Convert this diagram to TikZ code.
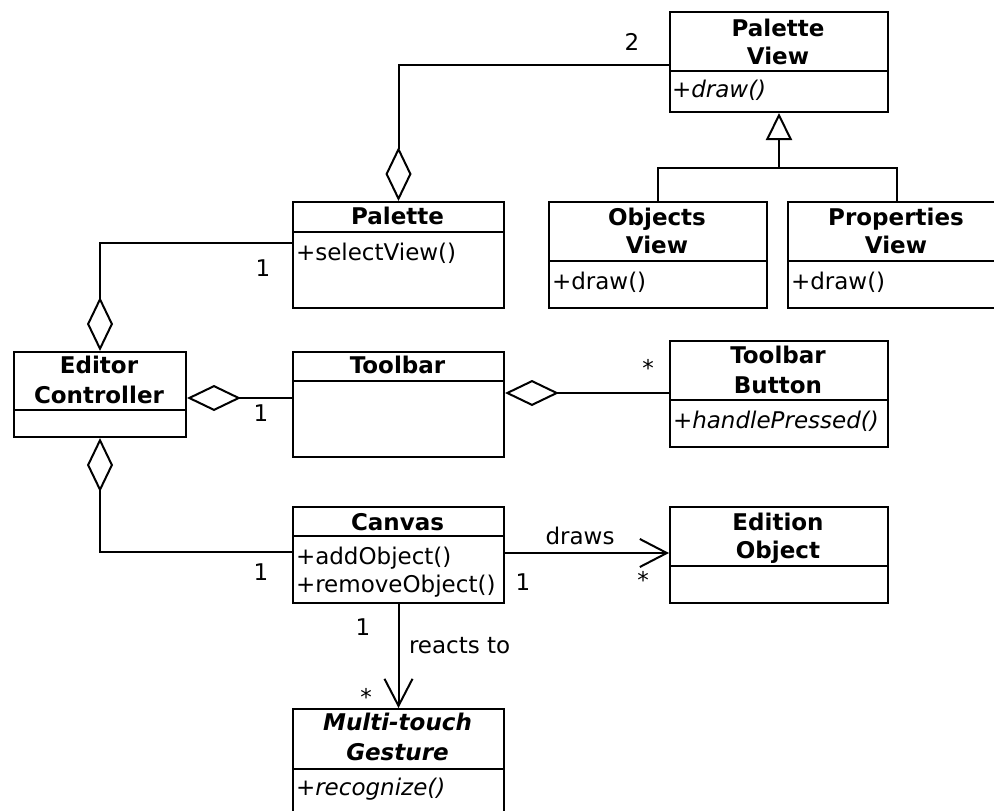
\documentclass[tikz,border=0pt]{standalone}
\usepackage{fontspec}
\setmainfont{DejaVu Sans}
\usetikzlibrary{arrows.meta}

\begin{document}
\begin{tikzpicture}[x=1pt, y=-1pt, line width=2pt,
  cls/.style={draw, rectangle, inner sep=0pt, anchor=north west},
  txt/.style={inner sep=0pt, anchor=base, font=\fontsize{23}{28}\selectfont},
  ttl/.style={txt, font=\fontsize{23}{28}\selectfont\bfseries},
  attl/.style={txt, font=\fontsize{23}{28}\selectfont\bfseries\itshape},
  op/.style={txt, anchor=base west},
  aop/.style={op, font=\fontsize{23}{28}\selectfont\itshape},
  mult/.style={txt},
  star/.style={inner sep=0pt, anchor=center, font=\fontsize{23}{28}\selectfont},
  agg/.style={{Diamond[open, length=54pt, width=26pt]}-},
  nav/.style={-{Straight Barb[length=27pt, width=28pt]}},
  gen/.style={-{Triangle[open, length=27pt, width=26pt]}}
]
\clip (0,0) rectangle (994,811);
\useasboundingbox (0,0) rectangle (994,811);

% ---- classes ----
\node[cls, minimum width=218pt, minimum height=100pt] (pv)  at (669,11)  {};
\node[cls, minimum width=211pt, minimum height=106pt] (pal) at (292,201) {};
\node[cls, minimum width=218pt, minimum height=106pt] (ov)  at (548,201) {};
\node[cls, minimum width=218pt, minimum height=106pt] (pp)  at (787,201) {};
\node[cls, minimum width=172pt, minimum height=85pt]  (ec)  at (13,351)  {};
\node[cls, minimum width=211pt, minimum height=105pt] (tb)  at (292,351) {};
\node[cls, minimum width=218pt, minimum height=106pt] (tbb) at (669,340) {};
\node[cls, minimum width=211pt, minimum height=96pt]  (cv)  at (292,506) {};
\node[cls, minimum width=218pt, minimum height=96pt]  (eo)  at (669,506) {};
\node[cls, minimum width=211pt, minimum height=130pt] (mg)  at (292,708) {};

% compartment dividers
\draw (pv.west  |- 0,71)  -- (pv.east  |- 0,71);
\draw (pal.west |- 0,232) -- (pal.east |- 0,232);
\draw (ov.west  |- 0,261) -- (ov.east  |- 0,261);
\draw (pp.west  |- 0,261) -- (pp.east  |- 0,261);
\draw (ec.west  |- 0,410) -- (ec.east  |- 0,410);
\draw (tb.west  |- 0,381) -- (tb.east  |- 0,381);
\draw (tbb.west |- 0,400) -- (tbb.east |- 0,400);
\draw (cv.west  |- 0,536) -- (cv.east  |- 0,536);
\draw (eo.west  |- 0,566) -- (eo.east  |- 0,566);
\draw (mg.west  |- 0,769) -- (mg.east  |- 0,769);

% ---- class names and operations ----
\node[ttl] (pvt1) at (778,36) {Palette};
\node[ttl] (pvt2) at (778,64) {View};
\node[aop] (pvo)  at (671,97) {+draw()};

\node[ttl] (palt) at (397.5,224) {Palette};
\node[op]  (palo) at (295,260) {+selectView()};

\node[ttl] (ovt1) at (657,225) {Objects};
\node[ttl] (ovt2) at (657,253) {View};
\node[op]  (ovo)  at (551,289) {+draw()};

\node[ttl] (ppt1) at (896,225) {Properties};
\node[ttl] (ppt2) at (896,253) {View};
\node[op]  (ppo)  at (790,289) {+draw()};

\node[ttl] (ect1) at (99,373) {Editor};
\node[ttl] (ect2) at (99,403) {Controller};

\node[ttl] (tbt)  at (397.5,373) {Toolbar};

\node[ttl] (tbbt1) at (778,363) {Toolbar};
\node[ttl] (tbbt2) at (778,393) {Button};
\node[aop] (tbbo)  at (672,428) {+handlePressed()};

\node[ttl] (cvt)  at (397.5,530) {Canvas};
\node[op]  (cvo1) at (295,564) {+addObject()};
\node[op]  (cvo2) at (295,592) {+removeObject()};

\node[ttl] (eot1) at (778,530) {Edition};
\node[ttl] (eot2) at (778,558) {Object};

\node[attl] (mgt1) at (397.5,730) {Multi-touch};
\node[attl] (mgt2) at (397.5,760) {Gesture};
\node[aop]  (mgo)  at (295,795) {+recognize()};

% ---- relationships ----
% generalization of the two palette views
\coordinate (gj) at (pv.south |- 0,168);
\draw[gen] (gj) -- (pv.south);
\draw (ov.north) |- (gj) -| (pp.north);

% aggregations
\draw[agg] (pal.north) |- ([yshift=-3pt]pv.west);
\draw[agg] (ec.north) |- ([yshift=12pt]pal.west);
\draw[agg] ([yshift=-3.5pt]ec.east) -- ([yshift=-3.5pt]ec.east -| tb.west);
\draw[agg] (ec.south) |- ([yshift=3pt]cv.west);
\draw[agg] ([yshift=11.5pt]tb.east) -- ([yshift=11.5pt]tb.east -| tbb.west);

% navigable associations
\draw[nav] ([yshift=2pt]cv.east) -- ([yshift=2pt]cv.east -| eo.west);
\draw[nav] (cv.south) -- (mg.north);

% ---- multiplicities and association names ----
\node[mult] (m1) at (632,50)  {2};
\node[mult] (m2) at (263,276) {1};
\node[mult] (m3) at (261,421) {1};
\node[star] (m4) at (648,368) {*};
\node[mult] (m5) at (261,580) {1};
\node[txt]  (l1) at (580,544) {draws};
\node[mult] (m6) at (523,590) {1};
\node[star] (m7) at (643,580) {*};
\node[mult] (m8) at (363,635) {1};
\node[txt, anchor=base west] (l2) at (408,653) {reacts to};
\node[star] (m9) at (366,697) {*};
\end{tikzpicture}
\end{document}
